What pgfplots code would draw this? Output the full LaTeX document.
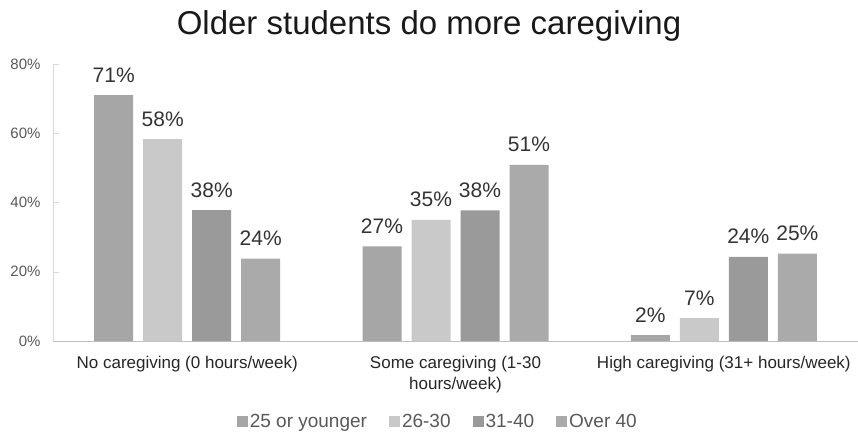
\documentclass[border=0pt]{standalone}
\usepackage{pgfplots}
\pgfplotsset{compat=1.18}
\usepackage{fontspec}
\setmainfont{Liberation Sans}
\definecolor{cA}{HTML}{A6A6A6}
\definecolor{cB}{HTML}{C9C9C9}
\definecolor{cC}{HTML}{9A9A9A}
\definecolor{cD}{HTML}{AAAAAA}
\definecolor{lab}{HTML}{333333}
\definecolor{tick}{HTML}{595959}
\begin{document}
\begin{tikzpicture}
\useasboundingbox (-53bp,-91bp) rectangle (805bp,341bp);
\begin{axis}[
  scale only axis,
  width=805bp, height=277bp,
  xmin=-0.5, xmax=2.5,
  ymin=0, ymax=80,
  ybar=10bp, bar width=39bp,
  axis x line*=bottom, axis y line*=left,
  x axis line style={draw=black!25, -},
  y axis line style={draw=black!15, -},
  xtick=data,
  xticklabels={{No caregiving (0 hours/week)},{Some caregiving (1-30\\hours/week)},{High caregiving (31+ hours/week)}},
  xtick style={draw=none},
  xticklabel style={font=\fontsize{17bp}{21bp}\selectfont, align=center, text=black!85, anchor=north, yshift=-12bp},
  ytick={0,20,40,60,80},
  yticklabel={\pgfmathprintnumber{\tick}\%},
  yticklabel style={font=\fontsize{15bp}{18bp}\selectfont, text=tick, xshift=-9bp},
  ytick style={draw=black!15},
  tick align=inside,
  major tick length=6bp,
  /pgf/number format/assume math mode=true,
  nodes near coords={\pgfmathprintnumber[fixed,precision=0]{\pgfplotspointmeta}\%},
  nodes near coords style={font=\fontsize{21bp}{24bp}\selectfont, text=lab, anchor=base, yshift=13bp, /pgf/number format/assume math mode=true},
  legend columns=4,
  legend style={draw=none, at={(rel axis cs:0.478,-0.29)}, anchor=center,
    font=\fontsize{19bp}{22bp}\selectfont, text=tick,
    /tikz/every even column/.append style={column sep=20bp}},
  legend image code/.code={\fill[#1] (0bp,-5.5bp) rectangle (11bp,5.5bp);},
  clip=false,
]
\addplot[fill=cA, draw=none] coordinates {(0,71.0) (1,27.3) (2,1.7)};
\addplot[fill=cB, draw=none] coordinates {(0,58.3) (1,35.0) (2,6.6)};
\addplot[fill=cC, draw=none] coordinates {(0,37.8) (1,37.7) (2,24.3)};
\addplot[fill=cD, draw=none] coordinates {(0,23.8) (1,50.9) (2,25.2)};
\legend{25 or younger,26-30,31-40,Over 40}
\end{axis}
\node[anchor=base, font=\fontsize{33bp}{38bp}\selectfont, text=black!90] at (376bp,306bp) {Older students do more caregiving};
\end{tikzpicture}
\end{document}
